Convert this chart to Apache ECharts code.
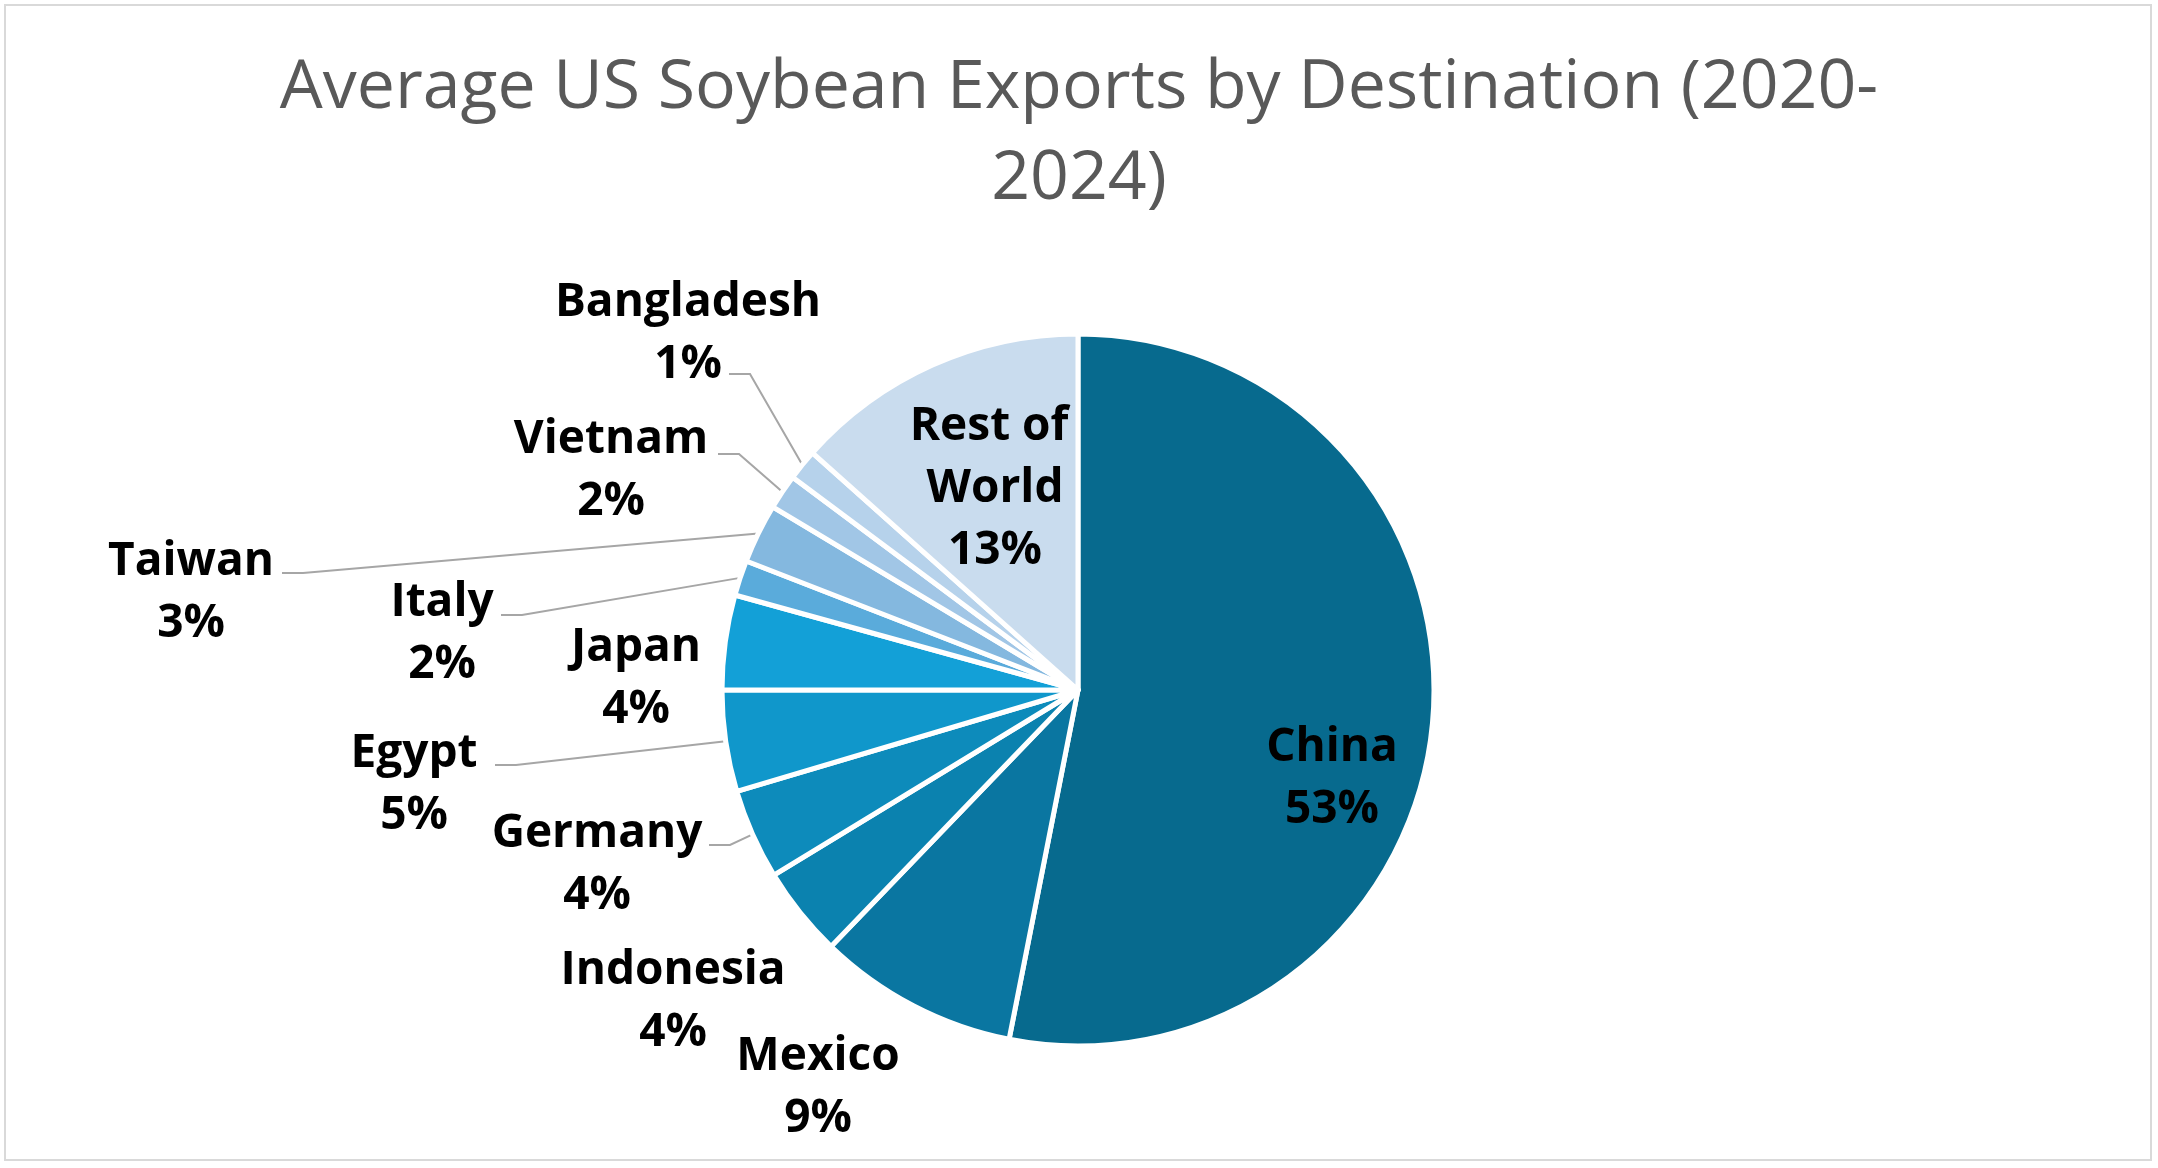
<!DOCTYPE html>
<html>
<head>
<meta charset="utf-8">
<script src="https://cdn.jsdelivr.net/npm/echarts@6/dist/echarts.min.js"></script>
<style>
html,body{margin:0;padding:0;background:#fff;}
#chart{width:2158px;height:1168px;}
</style>
</head>
<body>
<div id="chart"></div>
<script>
// ---- data ----
const categories = ['China','Mexico','Indonesia','Germany','Egypt','Japan','Italy','Taiwan','Vietnam','Bangladesh','Rest of World'];
const shares = [53.1, 9.1, 4.1, 4.1, 4.6, 4.3, 1.6, 2.7, 1.6, 1.4, 13.4];
const colors = ['#076a8e','#0a76a1','#0b82af','#0d8bbb','#1097cb','#13a0d7','#5aabdb','#84b8df','#a1c6e6','#b6d2eb','#c9dcee'];

// ---- layout (label placement, pixels) ----
const labelCenters = [
  [1332, 779], [818, 1088], [673, 1002], [597, 865], [414, 785], [636, 679],
  [442, 634], [191, 593], [611, 471], [688, 334], [995, 489]
];
// where the leader line meets the label (null = no leader line)
const leaderAttach = [
  null, null, null, [709, 845], [495, 765], null,
  [501, 615], [282, 573], [718, 454], [729, 374], null
];
const elbow = 21;

const chart = echarts.init(document.getElementById('chart'), null, {renderer: 'canvas'});

const data = categories.map((name, i) => {
  const item = {
    name: name,
    value: shares[i],
    itemStyle: {color: colors[i]}
  };
  if (!leaderAttach[i]) item.labelLine = {show: false};
  if (name === 'Rest of World') item.label = {width: 180, overflow: 'break'};
  return item;
});

chart.setOption({
  backgroundColor: '#ffffff',
  animation: false,
  title: {
    text: 'Average US Soybean Exports by Destination (2020-\n2024)',
    left: 'center',
    top: 38,
    textStyle: {
      fontFamily: 'Open Sans',
      fontWeight: 'normal',
      fontSize: 68,
      lineHeight: 91,
      color: '#595959'
    }
  },
  graphic: [{
    type: 'rect',
    shape: {x: 5, y: 5, width: 2146, height: 1155},
    style: {fill: 'none', stroke: '#d9d9d9', lineWidth: 2},
    silent: true
  }],
  series: [{
    type: 'pie',
    center: [1078, 690],
    radius: [0, 356],
    startAngle: 90,
    clockwise: true,
    avoidLabelOverlap: false,
    itemStyle: {borderColor: '#ffffff', borderWidth: 5},
    label: {
      show: true,
      position: 'outside',
      fontFamily: 'Open Sans',
      fontWeight: 'bold',
      fontSize: 46,
      lineHeight: 62,
      color: '#000000',
      formatter: p => p.name + '\n' + Math.round(p.value) + '%'
    },
    labelLine: {
      show: true,
      lineStyle: {color: '#a6a6a6', width: 2}
    },
    labelLayout: function (params) {
      const i = params.dataIndex;
      const c = labelCenters[i];
      const out = {x: c[0], y: c[1], align: 'center', verticalAlign: 'middle'};
      const a = leaderAttach[i];
      if (a && params.labelLinePoints) {
        const start = params.labelLinePoints[0];
        out.labelLinePoints = [
          [start[0], start[1]],
          [a[0] + elbow, a[1]],
          [a[0], a[1]]
        ];
      }
      return out;
    },
    data: data
  }]
});
</script>
</body>
</html>
